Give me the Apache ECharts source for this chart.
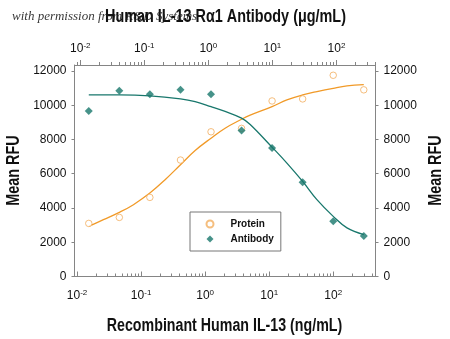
<!DOCTYPE html>
<html>
<head>
<meta charset="utf-8">
<script src="https://cdn.jsdelivr.net/npm/echarts@6/dist/echarts.min.js"></script>
<style>
  html, body { margin: 0; padding: 0; background: #fff; }
  #chart { width: 450px; height: 339px; }
</style>
</head>
<body>
<div id="chart"></div>
<script>
// Dilution series (ng/mL) shared by both assays
const concentration = [0.01524, 0.0457, 0.137, 0.412, 1.235, 3.70, 11.1, 33.3, 100, 300];
const proteinRFU  = [3100, 3450, 4620, 6800, 8450, 8650, 10250, 10370, 11750, 10900];
const antibodyRFU = [9670, 10850, 10640, 10900, 10640, 8520, 7500, 5500, 3220, 2370];

// Fitted response curves
const proteinFitConc = [0.01524, 0.0258, 0.0457, 0.0759, 0.137, 0.237, 0.412, 0.698, 1.235, 2.05, 3.70, 5.05, 11.1, 18.9, 33.3, 55.6, 100, 164, 300];
const proteinFitRFU  = [2930, 3320, 3745, 4194, 4870, 5650, 6525, 7357, 8075, 8660, 9180, 9420, 9920, 10311, 10600, 10796, 10990, 11128, 11200];
const antibodyFitConc = [0.01524, 0.0457, 0.137, 0.412, 0.698, 1.235, 2.05, 3.70, 5.05, 11.1, 18.9, 33.3, 55.6, 100, 164, 300];
const antibodyFitRFU  = [10600, 10600, 10545, 10370, 10210, 9920, 9640, 9250, 8880, 7550, 6623, 5550, 4485, 3510, 2837, 2450];

// Axis ticks
const decadeTicks = [0.001, 0.01, 0.1, 1, 10, 100, 1000];
const minorMultipliers = [2, 3, 4, 5, 6, 7, 8, 9];
const rfuTicks = [0, 2000, 4000, 6000, 8000, 10000, 12000];

// Titles
const bottomTitle = 'Recombinant Human IL-13 (ng/mL)';
const topTitle = 'Human IL-13 R\u03b11 Antibody (\u03bcg/mL)';
const yTitle = 'Mean RFU';
const creditLine = 'with permission from R&D Systems';

const FONT = "'Liberation Sans', Arial, sans-serif";
const ORANGE_LINE = '#F19A28';
const ORANGE_MARK = '#F3AE5E';
const TEAL = '#18776C';
const AXIS_GREY = '#858585';

const lg = v => Math.log10(v);
const majorLog = decadeTicks.map(lg);
const minorLog = [];
decadeTicks.forEach(d => minorMultipliers.forEach(m => minorLog.push(lg(d * m))));

const pairs = (xs, ys) => xs.map((x, i) => [lg(x), ys[i]]);

const powerLabel = v => '{b|10}{s|' + Math.round(v) + '}';
const powerRich = {
  b: { fontFamily: FONT, fontSize: 12, color: '#111', lineHeight: 14 },
  s: { fontFamily: FONT, fontSize: 8, color: '#111', lineHeight: 9, verticalAlign: 'top' }
};

function logAxis(opts) {
  return Object.assign({
    type: 'value',
    gridIndex: 0,
    splitLine: { show: false },
    axisLine: { show: true, onZero: false, lineStyle: { color: AXIS_GREY, width: 1 } }
  }, opts);
}

function rfuAxis(position) {
  return {
    type: 'value', position: position, min: 0, max: 12350,
    splitLine: { show: false },
    axisLine: { show: true, onZero: false, lineStyle: { color: AXIS_GREY, width: 1 } },
    axisTick: { show: true, inside: false, length: 3, customValues: rfuTicks, lineStyle: { color: AXIS_GREY } },
    axisLabel: { margin: 8, customValues: rfuTicks, formatter: v => String(v), fontFamily: FONT, fontSize: 12, color: '#111' }
  };
}

const bottomRange = [-2.04, 2.66];
const topRange = [-2.09, 2.61];

const titleFont = "bold 18px " + FONT;

const option = {
  animation: false,
  backgroundColor: '#fff',
  grid: { left: 74.5, right: 74.5, top: 65, bottom: 62.5, containLabel: false, outerBoundsMode: 'none' },
  xAxis: [
    logAxis({
      position: 'bottom', min: bottomRange[0], max: bottomRange[1],
      axisTick: { show: true, inside: true, length: 5, customValues: majorLog, lineStyle: { color: AXIS_GREY } },
      axisLabel: { show: true, margin: 12, customValues: majorLog, formatter: powerLabel, rich: powerRich }
    }),
    logAxis({
      position: 'bottom', min: bottomRange[0], max: bottomRange[1],
      axisLine: { show: false, onZero: false },
      axisTick: { show: true, inside: true, length: 3, customValues: minorLog, lineStyle: { color: AXIS_GREY } },
      axisLabel: { show: false }
    }),
    logAxis({
      position: 'top', min: topRange[0], max: topRange[1],
      axisTick: { show: true, inside: false, length: 5, customValues: majorLog, lineStyle: { color: AXIS_GREY } },
      axisLabel: { show: true, margin: 9, customValues: majorLog, formatter: powerLabel, rich: powerRich }
    }),
    logAxis({
      position: 'top', min: topRange[0], max: topRange[1],
      axisLine: { show: false, onZero: false },
      axisTick: { show: true, inside: false, length: 3, customValues: minorLog, lineStyle: { color: AXIS_GREY } },
      axisLabel: { show: false }
    })
  ],
  yAxis: [rfuAxis('left'), rfuAxis('right')],
  legend: {
    data: ['Protein', 'Antibody'],
    orient: 'vertical',
    left: 190, top: 212,
    padding: [7, 7, 7, 15.5],
    itemGap: 5,
    itemWidth: 7, itemHeight: 7,
    borderColor: '#777', borderWidth: 1,
    backgroundColor: '#fff',
    textStyle: { fontFamily: FONT, fontWeight: 'bold', fontSize: 10, color: '#111', padding: [0, 0, 0, 12] }
  },
  series: [
    {
      name: 'Protein fit', type: 'line', xAxisIndex: 0, yAxisIndex: 0,
      data: pairs(proteinFitConc, proteinFitRFU), smooth: 0.4, showSymbol: false, symbol: 'none',
      lineStyle: { color: ORANGE_LINE, width: 1.3 }, z: 2, silent: true
    },
    {
      name: 'Antibody fit', type: 'line', xAxisIndex: 0, yAxisIndex: 0,
      data: pairs(antibodyFitConc, antibodyFitRFU), smooth: 0.4, showSymbol: false, symbol: 'none',
      lineStyle: { color: TEAL, width: 1.3 }, z: 2, silent: true
    },
    {
      name: 'Protein', type: 'scatter', xAxisIndex: 0, yAxisIndex: 0,
      data: pairs(concentration, proteinRFU),
      symbol: 'circle', symbolSize: 6.5,
      itemStyle: { color: '#fff', borderColor: ORANGE_MARK, borderWidth: 1 }, z: 3
    },
    {
      name: 'Antibody', type: 'scatter', xAxisIndex: 0, yAxisIndex: 0,
      data: pairs(concentration, antibodyRFU),
      symbol: 'diamond', symbolSize: 8,
      itemStyle: { color: TEAL }, z: 3
    }
  ],
  graphic: [
    {
      type: 'text', x: 225.5, y: 17, scaleX: 0.8, z: 50,
      style: { text: topTitle, font: titleFont, fill: '#111', textAlign: 'center', textVerticalAlign: 'middle' }
    },
    {
      type: 'text', x: 224.5, y: 326, scaleX: 0.79, z: 50,
      style: { text: bottomTitle, font: titleFont, fill: '#111', textAlign: 'center', textVerticalAlign: 'middle' }
    },
    {
      type: 'text', x: 14, y: 170.5, rotation: Math.PI / 2, scaleX: 0.8, z: 50,
      style: { text: yTitle, font: titleFont, fill: '#111', textAlign: 'center', textVerticalAlign: 'middle' }
    },
    {
      type: 'text', x: 436, y: 170.5, rotation: Math.PI / 2, scaleX: 0.8, z: 50,
      style: { text: yTitle, font: titleFont, fill: '#111', textAlign: 'center', textVerticalAlign: 'middle' }
    },
    {
      type: 'text', x: 12, y: 17, z: 100,
      style: {
        text: creditLine,
        font: "italic 13px 'Liberation Serif', 'DejaVu Serif', serif",
        fill: 'rgba(30,30,30,0.9)', textAlign: 'left', textVerticalAlign: 'middle'
      }
    }
  ]
};

const chart = echarts.init(document.getElementById('chart'), null, { renderer: 'canvas' });
chart.setOption(option);
</script>
</body>
</html>
